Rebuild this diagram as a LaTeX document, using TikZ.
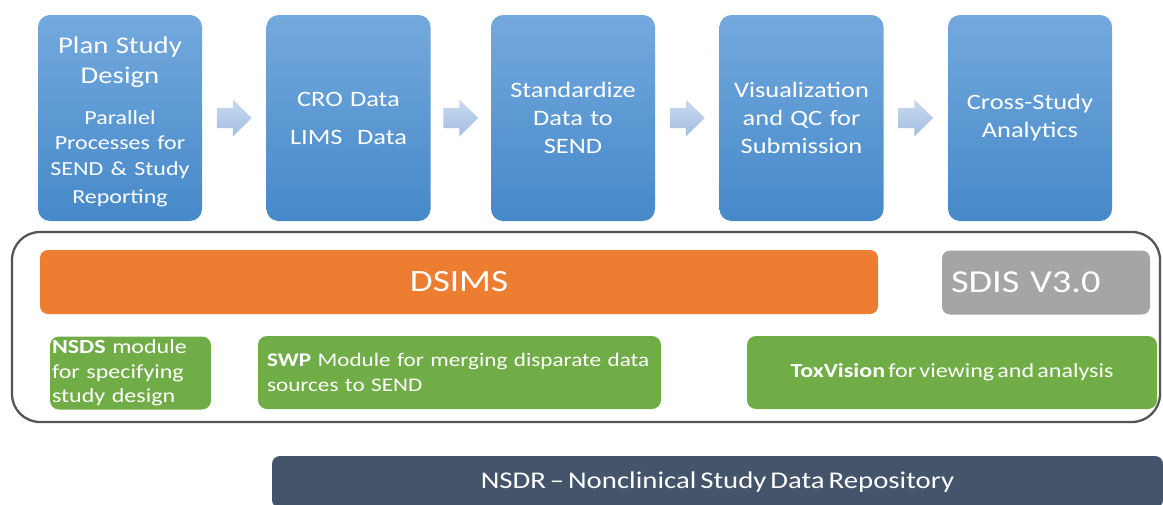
\documentclass[tikz,border=0pt]{standalone}
\usepackage{fontspec}
\setmainfont{Carlito}[FakeStretch=1.2,WordSpace=0.6]
\usetikzlibrary{calc}
\definecolor{bluetop}{HTML}{73A9DD}
\definecolor{bluebot}{HTML}{4689C9}
\definecolor{arrtop}{HTML}{C9DAEF}
\definecolor{arrbot}{HTML}{A3BDE1}
\definecolor{dsorange}{HTML}{ED7D31}
\definecolor{sdisgray}{HTML}{A5A5A5}
\definecolor{modgreen}{HTML}{70AD47}
\definecolor{nsdrslate}{HTML}{44546A}
\definecolor{framegray}{HTML}{555555}
\tikzset{
  stagetext/.style={inner sep=2pt, text width=160pt, align=center, text=white,
    font=\fontsize{22}{28}\selectfont},
  stage/.style={stagetext, rounded corners=12pt, top color=bluetop, bottom color=bluebot,
    minimum width=164pt, minimum height=206pt},
  blockarr/.style={top color=arrtop, bottom color=arrbot, draw=none},
  bar/.style={rounded corners=8pt, inner sep=0pt, text=white},
  module/.style={rounded corners=9pt, fill=modgreen, minimum height=73pt, text=white,
    font=\fontsize{20}{24.5}\selectfont},
  frame/.style={draw=framegray, line width=2.3pt, rounded corners=28pt}
}
\newcommand\blockarrow[1]{%
  \path[blockarr] ($(#1)+(-17.5,-10)$) -- ++(16,0) -- ++(0,-8.5) -- ++(19,18.5)
    -- ++(-19,18.5) -- ++(0,-8.5) -- ++(-16,0) -- cycle;}
\begin{document}
\begin{tikzpicture}[x=1pt,y=-1pt]
\useasboundingbox (0,0) rectangle (1163,504);
\clip (0,0) rectangle (1163,504);

% stage boxes
\node[stage] (b1) at (120,118) {};
\node[stagetext] (b1text) at ($(b1.center)+(0,3.5)$) {\fontsize{24}{30.5}\selectfont Plan Study\\Design\par\vspace{15pt}\fontsize{20}{25.5}\selectfont Parallel\\Processes for\\SEND \& Study\\Reporting};
\node[stage] (b2) at (348.5,118) {CRO Data\\[10pt]LIMS\ \ Data};
\node[stage] (b3) at (573,118) {Standardize\\Data to\\SEND};
\node[stage] (b4) at (801.5,118) {Visualization\\and QC for\\Submission};
\node[stage] (b5) at (1030,118) {Cross-Study\\Analytics};

% block arrows between stages
\coordinate (a1) at ($(b1.east)!0.5!(b2.west)$);
\coordinate (a2) at ($(b2.east)!0.5!(b3.west)$);
\coordinate (a3) at ($(b3.east)!0.5!(b4.west)$);
\coordinate (a4) at ($(b4.east)!0.5!(b5.west)$);
\blockarrow{a1}
\blockarrow{a2}
\blockarrow{a3}
\blockarrow{a4}

% frame
\node[frame, minimum width=1148pt, minimum height=190pt] (frame) at (586,327) {};

% DSIMS and SDIS
\node[bar, fill=dsorange, minimum width=838pt, minimum height=64pt,
  font=\fontsize{31}{31}\selectfont] (dsims) at (459,282) {DSIMS};
\node[bar, fill=sdisgray, minimum width=208pt, minimum height=64pt, text width=190pt,
  align=left, font=\fontsize{32}{32}\selectfont] (sdis) at (1046,282.5) {SDIS V3.0};

% modules
\node[module, minimum width=161pt, text width=157pt, inner sep=2pt, align=left] (nsds) at (130.5,373)
  {\textbf{NSDS} module\\for specifying\\study design};
\node[module, minimum width=403pt, text width=385pt, inner sep=9pt, align=left,
  font=\fontsize{19.3}{25}\selectfont] (swp) at (459.5,372.5)
  {\mbox{\textbf{SWP} Module for merging disparate data}\\sources to SEND};
\node[module, minimum width=410pt, align=center] (tox) at (952,372.5)
  {\textbf{ToxVision} for viewing and analysis};

% NSDR
\node[bar, fill=nsdrslate, minimum width=891pt, minimum height=52pt,
  font=\fontsize{24}{24}\selectfont] (nsdr) at (717.5,482) {NSDR -- Nonclinical Study Data Repository};
\end{tikzpicture}
\end{document}
